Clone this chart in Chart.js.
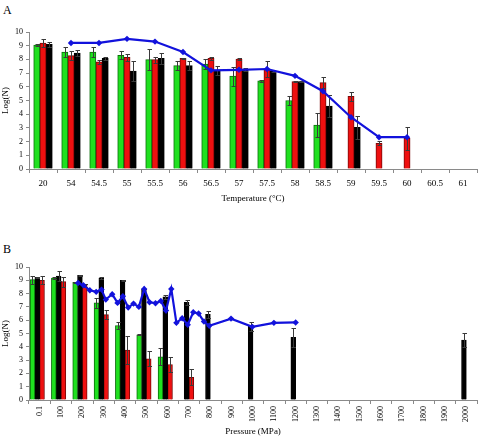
<!DOCTYPE html>
<html>
<head>
<meta charset="utf-8">
<script src="https://cdn.jsdelivr.net/npm/chart.js@4/dist/chart.umd.min.js"></script>
<style>
  html,body{margin:0;padding:0;background:#fff;}
  body{width:481px;height:438px;position:relative;overflow:hidden;font-family:"Liberation Serif",serif;}
  .box{position:absolute;left:0;width:481px;}
  .lab{position:absolute;left:3px;font-size:12px;font-family:"Liberation Serif",serif;color:#000;}
</style>
</head>
<body>
<div class="lab" style="top:3px;">A</div>
<div class="box" style="top:0;height:207px;"><canvas id="cA" width="481" height="207"></canvas></div>
<div class="lab" style="top:242px;">B</div>
<div class="box" style="top:207px;height:231px;"><canvas id="cB" width="481" height="231"></canvas></div>
<script>
// ---------- Panel A data ----------
const tempLabels = ['20','54','54.5','55','55.5','56','56.5','57','57.5','58','58.5','59','59.5','60','60.5','61'];
const tempGreen    = [9.05, 8.54, 8.54, 8.30, 7.98, 7.54, 7.65, 6.78, 6.44, 5.00, 3.20, null, null, null, null, null];
const tempGreenErr = [0.10, 0.35, 0.40, 0.30, 0.75, 0.35, 0.35, 0.70, 0.06, 0.30, 0.87, null, null, null, null, null];
const tempRed      = [9.20, 8.27, 7.83, 8.15, 7.98, 8.07, 8.07, 8.02, 7.30, 6.39, 6.30, 5.30, 1.88, 2.24, null, null];
const tempRedErr   = [0.30, 0.33, 0.14, 0.25, 0.22, 0.05, 0.08, 0.05, 0.60, 0.05, 0.40, 0.30, 0.14, 0.86, null, null];
const tempBlack    = [9.10, 8.46, 8.07, 7.15, 8.07, 7.54, 7.17, 7.24, 7.15, 6.39, 4.60, 3.05, null, null, null, null];
const tempBlackErr = [0.20, 0.19, 0.10, 0.75, 0.38, 0.31, 0.33, 0.10, 0.10, 0.05, 0.80, 0.85, null, null, null, null];
const tempLine     = [null, 9.20, 9.20, 9.50, 9.30, 8.54, 7.20, 7.24, 7.30, 6.80, 5.68, 3.78, 2.32, 2.32, null, null];

// ---------- Panel B data ----------
const presLabels = ['0.1','100','200','300','400','500','600','700','800','900','1000','1100','1200','1300','1400','1500','1600','1700','1800','1900','2000'];
const presValues = [0,100,200,300,400,500,600,700,800,900,1000,1100,1200,1300,1400,1500,1600,1700,1800,1900,2000];
const presGreen    = [9.05, 9.17, 8.85, 7.30, 5.60, 4.90, 3.25, null, null, null, null, null, null, null, null, null, null, null, null, null, null];
const presGreenErr = [0.30, 0.05, 0.05, 0.40, 0.27, 0.05, 0.65, null, null, null, null, null, null, null, null, null, null, null, null, null, null];
const presBlack    = [9.22, 9.32, 9.37, 9.17, 9.00, 8.35, 7.75, 7.35, 6.45, null, 5.55, null, 4.72, null, null, null, null, null, null, null, 4.50];
const presBlackErr = [0.05, 0.35, 0.05, 0.10, 0.03, 0.03, 0.15, 0.17, 0.27, null, 0.35, null, 0.70, null, null, null, null, null, null, null, 0.55];
const presRed      = [9.00, 8.90, 8.62, 6.42, 3.75, 3.10, 2.67, 1.70, null, null, null, null, null, null, null, null, null, null, null, null, null];
const presRedErr   = [0.30, 0.37, 0.13, 0.33, 1.05, 0.55, 0.55, 0.60, null, null, null, null, null, null, null, null, null, null, null, null, null];
const presLineP = [180, 205, 235, 265, 290, 310, 340, 365, 390, 415, 440, 465, 490, 515, 543, 568, 592, 617, 641, 668, 694, 720, 745, 770, 795, 897, 997, 1098, 1200];
const presLineV = [8.80, 8.63, 8.25, 8.13, 8.30, 7.55, 7.95, 7.30, 7.80, 6.95, 7.25, 7.00, 8.35, 7.35, 7.28, 7.45, 6.72, 8.35, 5.80, 6.15, 5.66, 6.60, 6.50, 5.90, 5.58, 6.12, 5.50, 5.80, 5.83];

const yTicks = [0,1,2,3,4,5,6,7,8,9,10];

const GREEN = '#1fe01f', GREEN_B = '#0b6e0b';
const RED = '#ee1010', RED_B = '#7a0808';
const BLACK = '#000000';
const BLUE = '#1212dc';

const errorBars = {
  id: 'errorBars',
  afterDatasetDraw(chart, args) {
    const ds = chart.data.datasets[args.index];
    if (!ds.errors) return;
    const y = chart.scales.y, ctx = chart.ctx;
    ctx.save();
    ctx.strokeStyle = '#3a3a3a';
    ctx.lineWidth = 1;
    args.meta.data.forEach((bar, i) => {
      const v = ds.data[i], e = ds.errors[i];
      if (v == null || e == null) return;
      const x = Math.round(bar.x) + 0.5;
      const yt = Math.round(y.getPixelForValue(v + e)) + 0.5;
      const yb = Math.round(y.getPixelForValue(Math.max(0, v - e))) + 0.5;
      ctx.beginPath();
      ctx.moveTo(x, yt); ctx.lineTo(x, yb);
      ctx.moveTo(x - 2, yt); ctx.lineTo(x + 2.5, yt);
      ctx.moveTo(x - 2, yb); ctx.lineTo(x + 2.5, yb);
      ctx.stroke();
    });
    ctx.restore();
  }
};

const tickFont = {family: '"Liberation Serif", serif', size: 8};
const titleFont = {family: '"Liberation Serif", serif', size: 9};

function barDs(label, data, errs, bg, bc, thick) {
  return {type: 'bar', label, data, errors: errs, backgroundColor: bg, borderColor: bc, borderWidth: 1,
          barThickness: thick, order: 1, xAxisID: 'x', yAxisID: 'y'};
}

function yScale() {
  return {
    min: 0, max: 10,
    afterBuildTicks: s => { s.ticks = yTicks.map(v => ({value: v})); },
    afterFit: s => { s.width = 29; },
    grid: {drawOnChartArea: false, color: '#8a8a8a', tickLength: 3, drawTicks: true},
    border: {color: '#8a8a8a', width: 1},
    ticks: {font: tickFont, color: '#000', padding: 3},
    title: {display: true, text: 'Log(N)', font: titleFont, color: '#000', padding: {top: 0, bottom: 0}}
  };
}

// Panel A
new Chart(document.getElementById('cA'), {
  data: {
    labels: tempLabels,
    datasets: [
      {type: 'line', label: 'line', data: tempLine, borderColor: BLUE, backgroundColor: BLUE, borderWidth: 2.2,
       pointStyle: 'rectRot', pointRadius: 3.2, pointBorderWidth: 0, tension: 0, order: 0, xAxisID: 'x', yAxisID: 'y'},
      barDs('g', tempGreen, tempGreenErr, GREEN, GREEN_B, 6.2),
      barDs('r', tempRed, tempRedErr, RED, RED_B, 6.2),
      barDs('b', tempBlack, tempBlackErr, BLACK, BLACK, 6.2)
    ]
  },
  options: {
    responsive: false, animation: false, events: [],
    layout: {padding: {top: 32, right: 1, left: 0, bottom: 0}},
    plugins: {legend: {display: false}, tooltip: {enabled: false}},
    scales: {
      x: {
        type: 'category', offset: true,
        afterFit: s => { s.height = 38; },
        grid: {drawOnChartArea: false, color: '#8a8a8a', tickLength: 4, offset: true},
        border: {color: '#8a8a8a', width: 1},
        ticks: {font: {family: '"Liberation Serif", serif', size: 9}, color: '#000', autoSkip: false, maxRotation: 0, minRotation: 0, padding: 5},
        title: {display: true, text: 'Temperature (°C)', font: titleFont, color: '#000', padding: {top: 0, bottom: 3}}
      },
      y: yScale()
    }
  },
  plugins: [errorBars]
});

// Panel B
new Chart(document.getElementById('cB'), {
  data: {
    labels: presLabels,
    datasets: [
      {type: 'line', label: 'line', data: presLineP.map((p, i) => ({x: p, y: presLineV[i]})), borderColor: BLUE, backgroundColor: BLUE,
       borderWidth: 2.2, pointStyle: 'rectRot', pointRadius: 3.2, pointBorderWidth: 0, tension: 0, order: 0, xAxisID: 'xl', yAxisID: 'y'},
      barDs('g', presGreen, presGreenErr, GREEN, GREEN_B, 4.8),
      barDs('b', presBlack, presBlackErr, BLACK, BLACK, 4.8),
      barDs('r', presRed, presRedErr, RED, RED_B, 4.8)
    ]
  },
  options: {
    responsive: false, animation: false, events: [],
    layout: {padding: {top: 60, right: 1, left: 0, bottom: 0}},
    plugins: {legend: {display: false}, tooltip: {enabled: false}},
    scales: {
      x: {
        type: 'category', offset: true,
        afterFit: s => { s.height = 38; },
        grid: {drawOnChartArea: false, color: '#8a8a8a', tickLength: 4, offset: true},
        border: {color: '#8a8a8a', width: 1},
        ticks: {font: tickFont, color: '#000', autoSkip: false, maxRotation: 90, minRotation: 90, padding: 2},
        title: {display: true, text: 'Pressure (MPa)', font: titleFont, color: '#000', padding: {top: 0, bottom: 1}}
      },
      xl: {
        type: 'linear', display: false,
        min: presValues[0] - 50, max: presValues[presValues.length - 1] + 50
      },
      y: yScale()
    }
  },
  plugins: [errorBars]
});
</script>
</body>
</html>
